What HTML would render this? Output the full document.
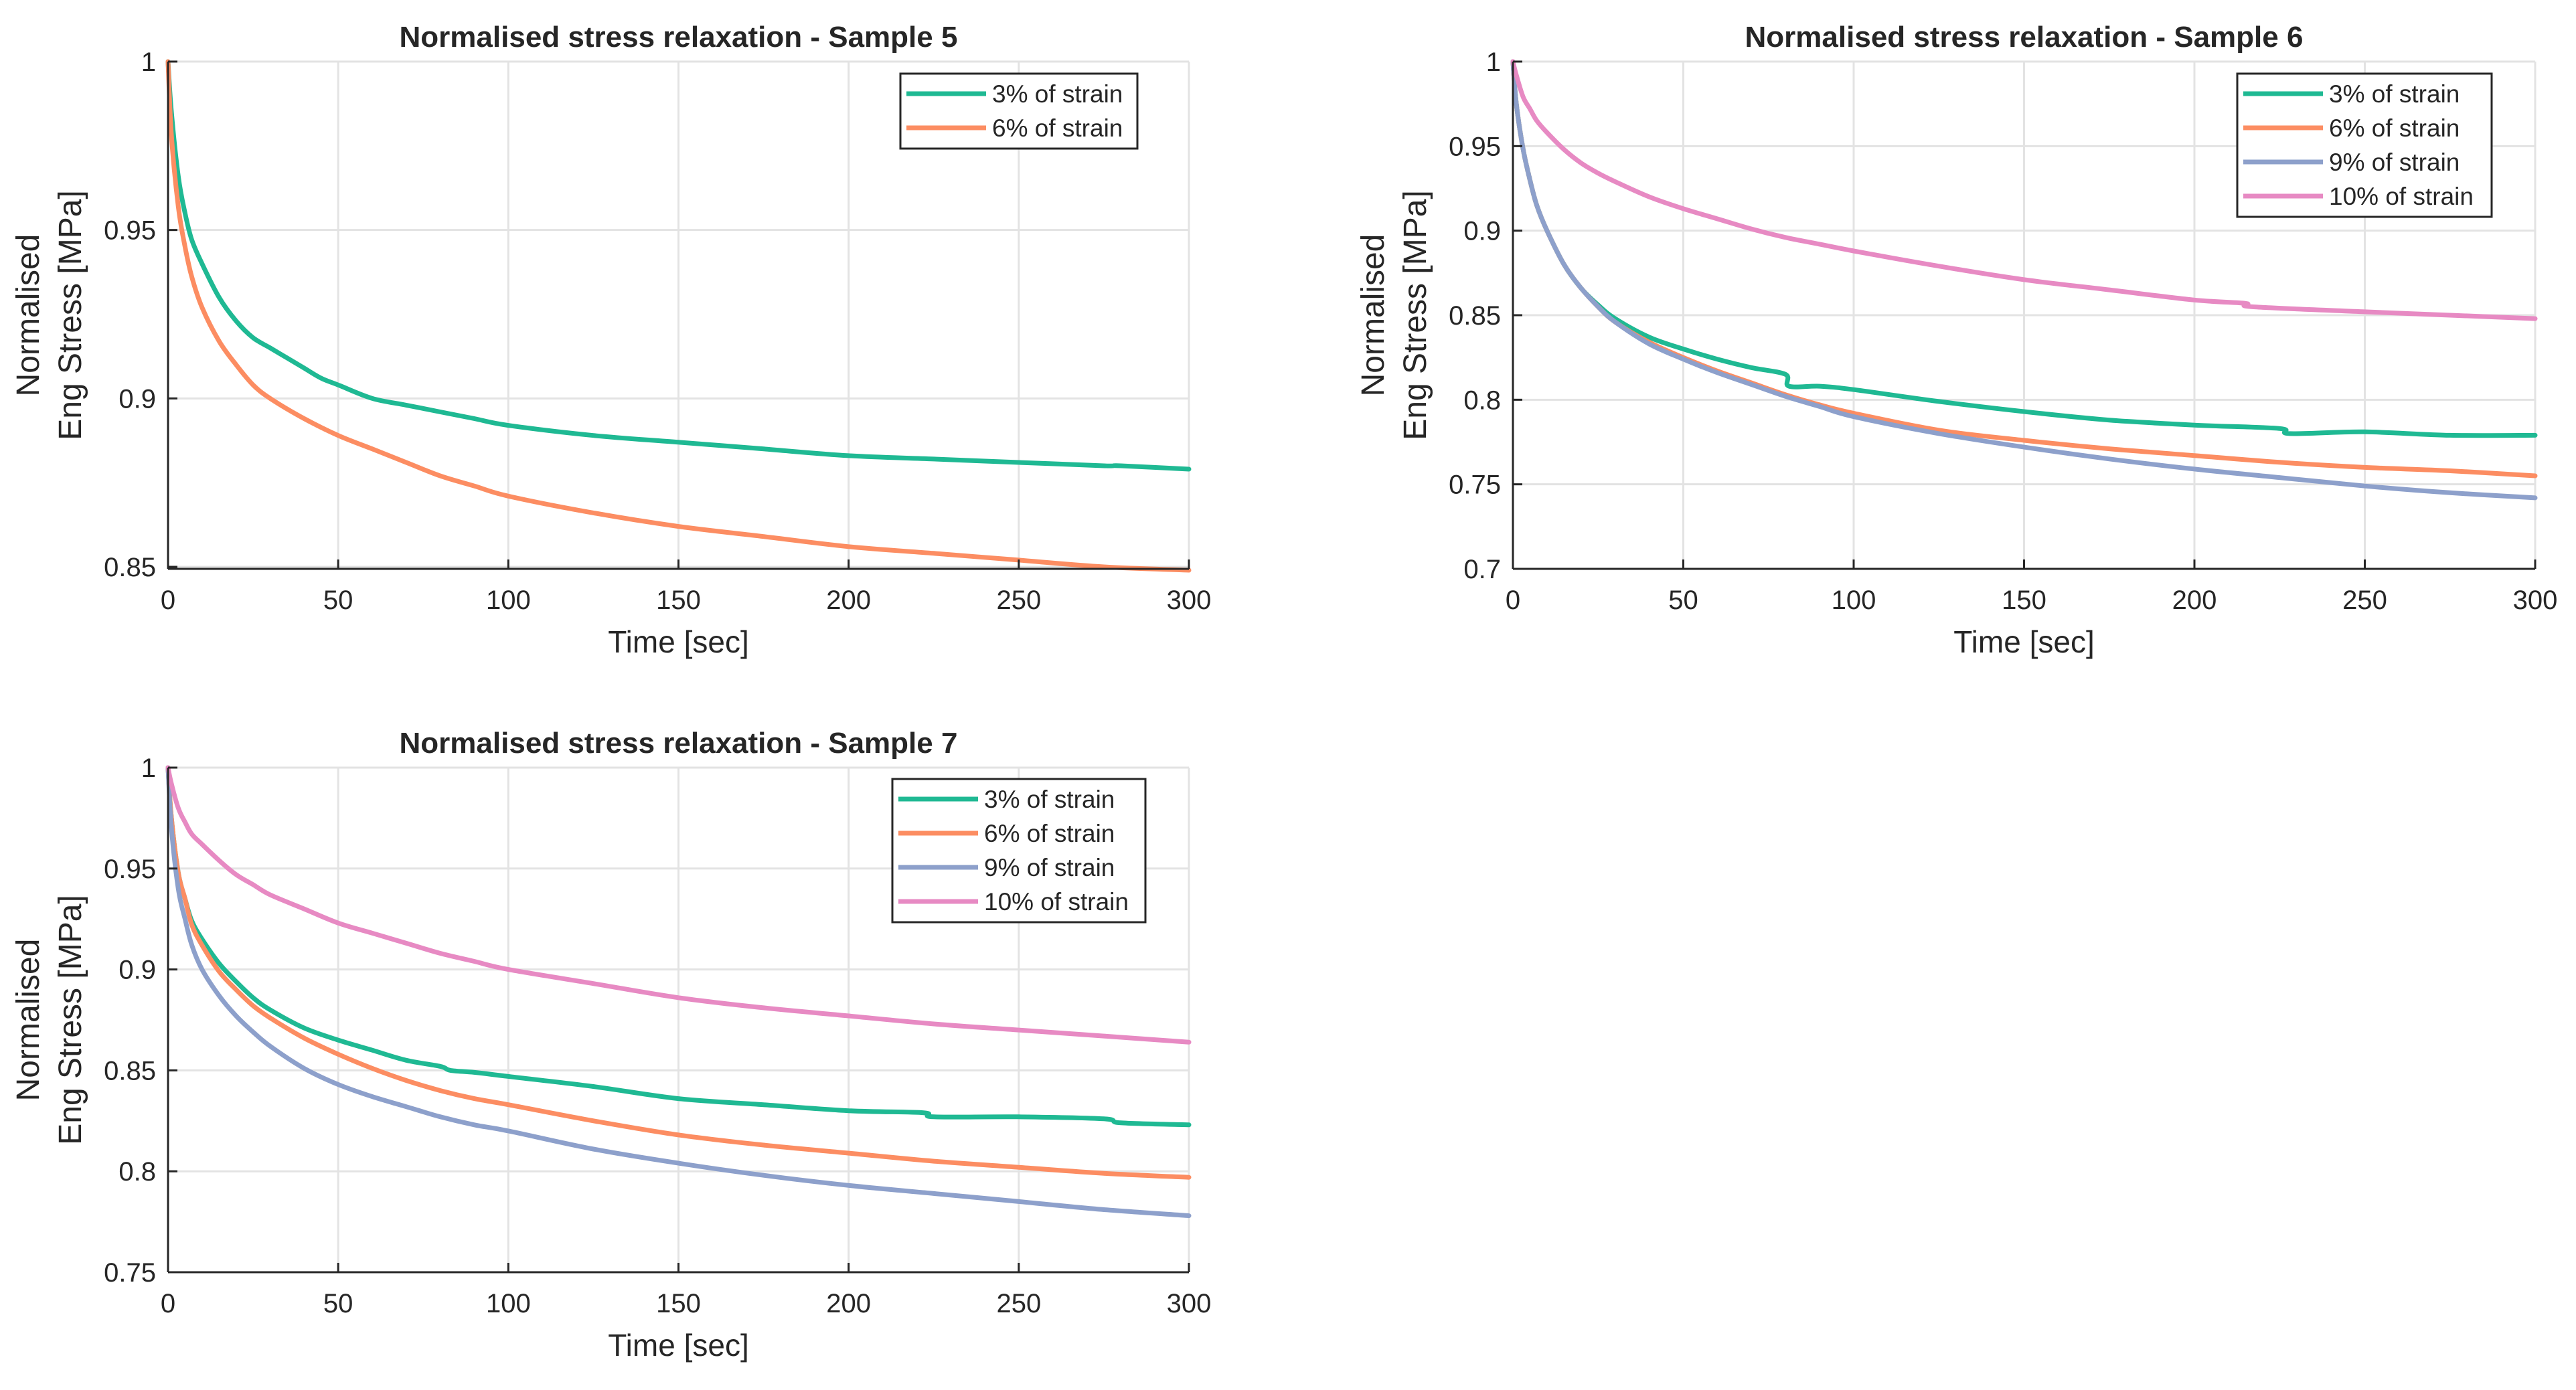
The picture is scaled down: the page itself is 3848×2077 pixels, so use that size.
<!DOCTYPE html>
<html><head><meta charset="utf-8">
<style>
html,body{margin:0;padding:0;background:#fff;}
svg{display:block;}
text{font-family:"Liberation Sans",sans-serif;fill:#262626;}
</style></head>
<body>
<svg id="fig" width="3848" height="2077" viewBox="0 0 3848 2077" xmlns="http://www.w3.org/2000/svg"></svg>
<script>
// ---- data ----
const xTicks = [0,50,100,150,200,250,300];
const yTicks1 = [0.85,0.9,0.95,1];
const yTicks2 = [0.7,0.75,0.8,0.85,0.9,0.95,1];
const yTicks3 = [0.75,0.8,0.85,0.9,0.95,1];
const seriesNames = ["3% of strain","6% of strain","9% of strain","10% of strain"];
const seriesColors = ["#1fb993","#fc8d62","#8da0cb","#e78ac3"];

// Sample 5
const s5t3 = [0,1,3,5,7,10,15,20,25,30,35,40,45,50,60,70,80,90,100,125,150,175,200,225,250,275,280,300];
const s5v3 = [1,0.985,0.966,0.955,0.947,0.94,0.93,0.923,0.918,0.915,0.912,0.909,0.906,0.904,0.900,0.898,0.896,0.894,0.892,0.889,0.887,0.885,0.883,0.882,0.881,0.880,0.880,0.879];
const s5t6 = [0,1,3,5,7,10,15,20,25,30,40,50,60,70,80,90,100,125,150,175,200,225,250,275,300];
const s5v6 = [1,0.978,0.957,0.945,0.936,0.927,0.917,0.910,0.904,0.900,0.894,0.889,0.885,0.881,0.877,0.874,0.871,0.866,0.862,0.859,0.856,0.854,0.852,0.850,0.849];

// Sample 6
const s6t3 = [0,1,3,5,7,10,15,20,25,30,40,50,60,70,80,81,90,100,125,150,175,200,225,228,250,275,300];
const s6v3 = [1,0.975,0.948,0.93,0.915,0.9,0.88,0.866,0.856,0.848,0.837,0.830,0.824,0.819,0.815,0.808,0.808,0.806,0.799,0.793,0.788,0.785,0.783,0.780,0.781,0.779,0.779];
const s6t6 = [0,1,3,5,7,10,15,20,25,30,40,50,60,70,80,90,100,125,150,175,200,225,250,275,300];
const s6v6 = [1,0.975,0.948,0.93,0.915,0.9,0.88,0.866,0.855,0.846,0.834,0.825,0.817,0.810,0.803,0.797,0.792,0.782,0.776,0.771,0.767,0.763,0.760,0.758,0.755];
const s6t9 = [0,1,3,5,7,10,15,20,25,30,40,50,60,70,80,90,100,125,150,175,200,225,250,275,300];
const s6v9 = [1,0.975,0.948,0.93,0.915,0.9,0.88,0.866,0.855,0.846,0.833,0.824,0.816,0.809,0.802,0.796,0.790,0.780,0.772,0.765,0.759,0.754,0.749,0.745,0.742];
const s6t10 = [0,1,3,5,7,10,15,20,25,30,40,50,60,70,80,90,100,125,150,175,200,215,217,250,275,300];
const s6v10 = [1,0.992,0.979,0.972,0.965,0.958,0.948,0.940,0.934,0.929,0.920,0.913,0.907,0.901,0.896,0.892,0.888,0.879,0.871,0.865,0.859,0.857,0.855,0.852,0.850,0.848];

// Sample 7
const s7t3 = [0,1,3,5,7,10,15,20,25,30,40,50,60,70,80,83,90,100,125,150,175,200,222,225,250,275,280,300];
const s7v3 = [1,0.975,0.948,0.935,0.924,0.915,0.903,0.894,0.886,0.880,0.871,0.865,0.860,0.855,0.852,0.850,0.849,0.847,0.842,0.836,0.833,0.830,0.829,0.827,0.827,0.826,0.824,0.823];
const s7t6 = [0,1,3,5,7,10,15,20,25,30,40,50,60,70,80,90,100,125,150,175,200,225,250,275,300];
const s7v6 = [1,0.975,0.948,0.935,0.922,0.912,0.899,0.890,0.882,0.876,0.866,0.858,0.851,0.845,0.840,0.836,0.833,0.825,0.818,0.813,0.809,0.805,0.802,0.799,0.797];
const s7t9 = [0,1,3,5,7,10,15,20,25,30,40,50,60,70,80,90,100,125,150,175,200,225,250,275,300];
const s7v9 = [1,0.97,0.94,0.925,0.912,0.900,0.887,0.877,0.869,0.862,0.851,0.843,0.837,0.832,0.827,0.823,0.820,0.811,0.804,0.798,0.793,0.789,0.785,0.781,0.778];
const s7t10 = [0,1,3,5,7,10,15,20,25,30,40,50,60,70,80,90,100,125,150,175,200,225,250,275,300];
const s7v10 = [1,0.992,0.98,0.973,0.967,0.962,0.954,0.947,0.942,0.937,0.930,0.923,0.918,0.913,0.908,0.904,0.900,0.893,0.886,0.881,0.877,0.873,0.870,0.867,0.864];

const NS = "http://www.w3.org/2000/svg";
const svg = document.getElementById("fig");
function mk(tag, attrs, parent){
  const e = document.createElementNS(NS, tag);
  for (const k in attrs) e.setAttribute(k, attrs[k]);
  (parent||svg).appendChild(e);
  return e;
}
function smoothPath(P){
  let d = "M" + P[0][0].toFixed(1) + "," + P[0][1].toFixed(1);
  for (let i = 0; i < P.length - 1; i++){
    const p0 = P[i-1] || P[i], p1 = P[i], p2 = P[i+1], p3 = P[i+2] || P[i+1];
    const c1x = p1[0] + (p2[0]-p0[0])/6, c1y = p1[1] + (p2[1]-p0[1])/6;
    const c2x = p2[0] - (p3[0]-p1[0])/6, c2y = p2[1] - (p3[1]-p1[1])/6;
    d += " C" + c1x.toFixed(1) + "," + c1y.toFixed(1) + " " + c2x.toFixed(1) + "," + c2y.toFixed(1) + " " + p2[0].toFixed(1) + "," + p2[1].toFixed(1);
  }
  return d;
}

function drawPlot(p){
  const g = mk("g", {});
  
  
  const X = v => p.L + (v - 0) / 300 * (p.R - p.L);
  const Y = v => p.B - (v - p.ymin) / (p.ymax - p.ymin) * (p.B - p.T);
  mk("rect", {x:p.L, y:p.T, width:p.R-p.L, height:p.B-p.T, fill:"#fff"}, g);
  xTicks.forEach(t => {
    const l = mk("line", {x1:X(t), x2:X(t), y1:p.T, y2:p.B, stroke:"#e3e3e3", "stroke-width":3}, g);
    
    
  });
  p.yTicks.forEach(t => {
    const l = mk("line", {x1:p.L, x2:p.R, y1:Y(t), y2:Y(t), stroke:"#e3e3e3", "stroke-width":3}, g);
    
    
  });
  p.series.forEach((s, i) => {
    const P = s.t.map((t, j) => [X(t), Y(s.v[j])]);
    const pl = mk("path", {d:smoothPath(P), fill:"none", stroke:seriesColors[s.c], "stroke-width":7, "stroke-linejoin":"round", "stroke-linecap":"round"}, g);
    
    
  });
  const ax = mk("line", {x1:p.L, x2:p.R, y1:p.B, y2:p.B, stroke:"#262626", "stroke-width":3}, g);
  
  
  const ay = mk("line", {x1:p.L, x2:p.L, y1:p.T, y2:p.B, stroke:"#262626", "stroke-width":3}, g);
  
  
  xTicks.forEach(t => {
    mk("line", {x1:X(t), x2:X(t), y1:p.B, y2:p.B-14, stroke:"#262626", "stroke-width":3}, g);
    const tx = mk("text", {x:X(t), y:p.B+60, "font-size":40, "text-anchor":"middle"}, g);
    tx.textContent = t;
    
    
  });
  p.yTicks.forEach(t => {
    mk("line", {x1:p.L, x2:p.L+14, y1:Y(t), y2:Y(t), stroke:"#262626", "stroke-width":3}, g);
    const tx = mk("text", {x:p.L-18, y:Y(t)+14, "font-size":40, "text-anchor":"end"}, g);
    tx.textContent = String(t);
    
    
  });
  const ti = mk("text", {x:(p.L+p.R)/2, y:p.T-22, "font-size":44, "font-weight":"bold", "text-anchor":"middle", fill:"#000"}, g);
  ti.textContent = p.title;
  
  
  const xl = mk("text", {x:(p.L+p.R)/2, y:p.B+125, "font-size":46, "text-anchor":"middle"}, g);
  xl.textContent = "Time [sec]";
  
  
  const cy = (p.T + p.B) / 2;
  const yl1 = mk("text", {x:0, y:0, "font-size":48, "text-anchor":"middle", transform:`translate(${p.L-193},${cy}) rotate(-90)`}, g);
  yl1.textContent = "Normalised";
  
  
  const yl2 = mk("text", {x:0, y:0, "font-size":48, "text-anchor":"middle", transform:`translate(${p.L-130},${cy}) rotate(-90)`}, g);
  yl2.textContent = "Eng Stress [MPa]";
  
  
  const lg = mk("g", {}, g);
  
  
  const n = p.series.length;
  mk("rect", {x:p.lx, y:p.ly, width:p.lw, height:n*51+10, fill:"#fff", stroke:"#262626", "stroke-width":3}, lg);
  p.series.forEach((s, i) => {
    const ry = p.ly + 30 + i*51;
    const e = mk("g", {}, lg);
    
    
    mk("line", {x1:p.lx+9, x2:p.lx+128, y1:ry, y2:ry, stroke:seriesColors[s.c], "stroke-width":7}, e);
    const tx = mk("text", {x:p.lx+137, y:ry+13, "font-size":37}, e);
    tx.textContent = seriesNames[s.c];
  });
}

drawPlot({name:"plot-sample-5", title:"Normalised stress relaxation - Sample 5",
  L:251, R:1776, T:92, B:850, ymin:0.8494, ymax:1, yTicks:yTicks1,
  lx:1345, ly:110, lw:354,
  series:[{t:s5t3,v:s5v3,c:0},{t:s5t6,v:s5v6,c:1}]});
drawPlot({name:"plot-sample-6", title:"Normalised stress relaxation - Sample 6",
  L:2260, R:3787, T:92, B:850, ymin:0.7, ymax:1, yTicks:yTicks2,
  lx:3342, ly:110, lw:380,
  series:[{t:s6t3,v:s6v3,c:0},{t:s6t6,v:s6v6,c:1},{t:s6t9,v:s6v9,c:2},{t:s6t10,v:s6v10,c:3}]});
drawPlot({name:"plot-sample-7", title:"Normalised stress relaxation - Sample 7",
  L:251, R:1776, T:1147, B:1901, ymin:0.75, ymax:1, yTicks:yTicks3,
  lx:1333, ly:1164, lw:378,
  series:[{t:s7t3,v:s7v3,c:0},{t:s7t6,v:s7v6,c:1},{t:s7t9,v:s7v9,c:2},{t:s7t10,v:s7v10,c:3}]});
</script>
</body></html>
